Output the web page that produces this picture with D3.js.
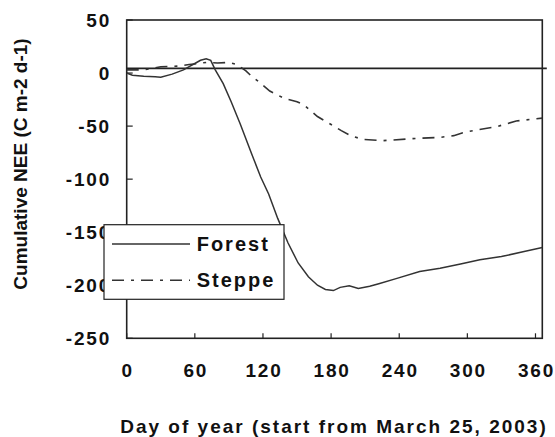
<!DOCTYPE html>
<html lang="en">
<head>
    <meta charset="UTF-8">
    <title>Cumulative NEE</title>
    <script src="https://d3js.org/d3.v7.min.js"></script>
    <style>
        body { margin: 0; background: #fff; }
        svg { display: block; font-family: "Liberation Sans", Arial, sans-serif; font-weight: bold; }
    </style>
</head>
<body>
<svg width="555" height="437"></svg>
<script>
    // values: [day, cumulative NEE]
    const forestDays = [0, 5, 15, 25, 30, 40, 50, 55, 60, 65, 70, 74, 78, 85, 92, 100, 110, 118, 125, 133, 142, 151, 160, 168, 175, 182, 188, 196, 204, 214, 222, 238, 258, 276, 294, 311, 330, 349, 366];
    const forestNEE = [0, -2, -3, -3.5, -4, -1, 3, 6, 9, 12, 13.5, 12, 3, -10, -27, -48, -76, -98, -114, -137, -160, -179, -192, -200, -204, -205, -202, -200.5, -203, -201, -198.5, -193.5, -187, -184, -180, -176, -173, -168.4, -164.5];

    const steppeDays = [0, 15, 30, 45, 55, 70, 80, 90, 97, 105, 110, 116, 126, 139, 150, 156, 168, 180, 189, 198, 208, 226, 252, 276, 288, 296, 308, 326, 343, 366];
    const steppeNEE = [3, 3, 6, 6.5, 8, 10, 9.5, 10, 8, 2, -3, -8, -17, -24, -27, -30, -41, -48.5, -54.3, -59.4, -62.5, -63.7, -61.8, -60.6, -59, -56.2, -53.7, -50.5, -45.2, -42.5];

    const xTicks = [0, 60, 120, 180, 240, 300, 360];
    const yTicks = [50, 0, -50, -100, -150, -200, -250];
    const refLine = 4.5; // horizontal line drawn just above zero

    const seriesNames = ["Forest", "Steppe"];

    const svg = d3.select("svg");
    const plot = {left: 126.7, right: 542.3, top: 20, bottom: 338.3};

    const x = d3.scaleLinear().domain([0, 366]).range([plot.left, plot.right]);
    const y = d3.scaleLinear().domain([-250, 50]).range([plot.bottom, plot.top]);

    const ink = "#222";

    // plot frame
    svg.append("rect")
        .attr("x", plot.left).attr("y", plot.top)
        .attr("width", plot.right - plot.left).attr("height", plot.bottom - plot.top)
        .attr("fill", "none")
        .attr("stroke", ink)
        .attr("stroke-width", 1.6);

    // inner ticks
    svg.append("g").selectAll("line")
        .data(yTicks)
        .join("line")
        .attr("x1", plot.left).attr("x2", plot.left + 6)
        .attr("y1", d => y(d)).attr("y2", d => y(d))
        .attr("stroke", ink).attr("stroke-width", 1.2);

    svg.append("g").selectAll("line")
        .data(xTicks)
        .join("line")
        .attr("x1", d => x(d)).attr("x2", d => x(d))
        .attr("y1", plot.bottom).attr("y2", plot.bottom - 5)
        .attr("stroke", ink).attr("stroke-width", 1.2);

    // reference line
    svg.append("line")
        .attr("x1", plot.left).attr("x2", plot.right + 4.5)
        .attr("y1", y(refLine)).attr("y2", y(refLine))
        .attr("stroke", ink).attr("stroke-width", 1.8);

    const line = d3.line()
        .x(d => x(d[0]))
        .y(d => y(d[1]));

    const forest = d3.zip(forestDays, forestNEE);
    const steppe = d3.zip(steppeDays, steppeNEE);

    svg.append("path")
        .datum(steppe)
        .attr("fill", "none")
        .attr("stroke", "#333")
        .attr("stroke-width", 1.6)
        .attr("stroke-dasharray", "12,7,3,7")
        .attr("d", line);

    svg.append("path")
        .datum(forest)
        .attr("fill", "none")
        .attr("stroke", "#333")
        .attr("stroke-width", 1.5)
        .attr("d", line);

    // tick labels
    svg.append("g")
        .attr("font-size", 19)
        .attr("letter-spacing", 1.8)
        .attr("fill", "#111")
        .selectAll("text")
        .data(yTicks)
        .join("text")
        .attr("x", 111)
        .attr("y", d => y(d))
        .attr("dy", "0.36em")
        .attr("text-anchor", "end")
        .text(d => d);

    svg.append("g")
        .attr("font-size", 19)
        .attr("letter-spacing", 1.8)
        .attr("fill", "#111")
        .selectAll("text")
        .data(xTicks)
        .join("text")
        .attr("x", d => x(d) + 1)
        .attr("y", 376.7)
        .attr("text-anchor", "middle")
        .text(d => d);

    // axis titles
    svg.append("text")
        .attr("x", 334)
        .attr("y", 433)
        .attr("font-size", 19)
        .attr("letter-spacing", 2)
        .attr("text-anchor", "middle")
        .attr("fill", "#111")
        .text("Day of year (start from March 25, 2003)");

    svg.append("text")
        .attr("transform", "translate(26.7,164) rotate(-90)")
        .attr("font-size", 19)
        .attr("text-anchor", "middle")
        .attr("fill", "#111")
        .text("Cumulative NEE (C m-2 d-1)");

    // legend
    const legend = svg.append("g");
    legend.append("rect")
        .attr("x", 104).attr("y", 224.7)
        .attr("width", 180).attr("height", 74.6)
        .attr("fill", "#fff")
        .attr("stroke", ink)
        .attr("stroke-width", 1.2);

    const legendY = [244, 280.3];
    legend.selectAll("line")
        .data(seriesNames)
        .join("line")
        .attr("x1", 112).attr("x2", 190)
        .attr("y1", (d, i) => legendY[i]).attr("y2", (d, i) => legendY[i])
        .attr("stroke", "#333")
        .attr("stroke-width", 1.6)
        .attr("stroke-dasharray", (d, i) => i ? "12,7,3,7" : null);

    legend.selectAll("text")
        .data(seriesNames)
        .join("text")
        .attr("x", 196.7)
        .attr("y", (d, i) => legendY[i] + 7)
        .attr("font-size", 20)
        .attr("letter-spacing", 2)
        .attr("fill", "#111")
        .text(d => d);
</script>
</body>
</html>
